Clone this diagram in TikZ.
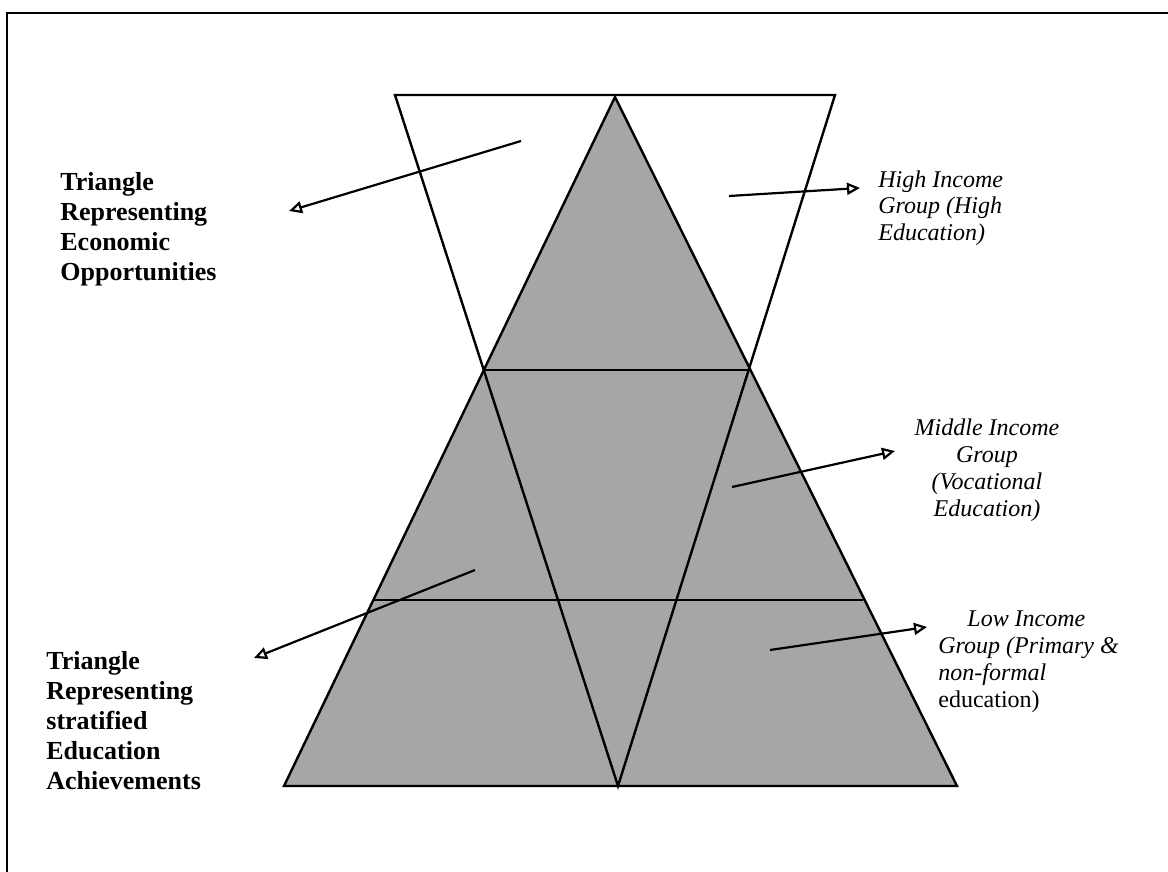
\documentclass[tikz,border=0pt]{standalone}
\usepackage{fontspec}
\setmainfont{Liberation Serif}
\usetikzlibrary{arrows.meta}
\begin{document}
\begin{tikzpicture}[x=0.5pt,y=-0.5pt,
  edge/.style={line width=1.2pt,line join=miter},
  pointer/.style={line width=1.1pt,-{Triangle[open,length=6.5pt,width=6pt,line width=1.1pt]}},
  boldlabel/.style={font=\fontsize{13}{15}\selectfont\bfseries,align=left,inner sep=0pt,anchor=base west},
  itlabel/.style={font=\fontsize{12}{13.5}\selectfont\itshape,inner sep=0pt,anchor=base west},
  frame/.style={line width=0.8pt}]
\useasboundingbox (0,0) rectangle (1168,872);
% frame
\draw[frame] (7,872) -- (7,13) -- (1168,13);
% geometry
\coordinate (apex) at (615,97);
\coordinate (bl) at (284,786);
\coordinate (br) at (957,786);
\coordinate (itl) at (395,95);
\coordinate (itr) at (835,95);
\coordinate (iapex) at (618,786);
\coordinate (h1l) at (485,370);
\coordinate (h1r) at (750,370);
\coordinate (h2l) at (374,600);
\coordinate (h2r) at (863,600);
% education triangle
\fill[black!35] (apex) -- (bl) -- (br) -- cycle;
\draw[edge] (apex) -- (bl) -- (br) -- cycle;
% economic opportunities triangle
\draw[edge] (itl) -- (itr) -- (iapex) -- cycle;
% strata
\draw[edge] (h1l) -- (h1r);
\draw[edge] (h2l) -- (h2r);
% labels (base anchor = baseline of the last line)
\node[boldlabel] (econ) at (60,280) {Triangle\\Representing\\Economic\\Opportunities};
\node[boldlabel] (edu) at (46,789) {Triangle\\Representing\\stratified\\Education\\Achievements};
\node[itlabel,align=left] (high) at (878,241) {High Income\\Group (High\\Education)};
\node[itlabel,align=center,anchor=base] (mid) at (987,516) {Middle Income\\Group\\(Vocational\\Education)};
\node[itlabel,align=left] (low) at (938,707) {\hspace*{14.5pt}Low Income\\Group (Primary \&\\non-formal\\\upshape education)};
% arrows
\coordinate (a1s) at (521,141); \coordinate (a1e) at (289,211);
\coordinate (a2s) at (729,196); \coordinate (a2e) at (860,188);
\coordinate (a3s) at (732,487); \coordinate (a3e) at (895,451);
\coordinate (a4s) at (770,650); \coordinate (a4e) at (927,627);
\coordinate (a5s) at (475,570); \coordinate (a5e) at (254,658);
\draw[pointer] (a1s) -- (a1e);
\draw[pointer] (a2s) -- (a2e);
\draw[pointer] (a3s) -- (a3e);
\draw[pointer] (a4s) -- (a4e);
\draw[pointer] (a5s) -- (a5e);
\end{tikzpicture}
\end{document}
